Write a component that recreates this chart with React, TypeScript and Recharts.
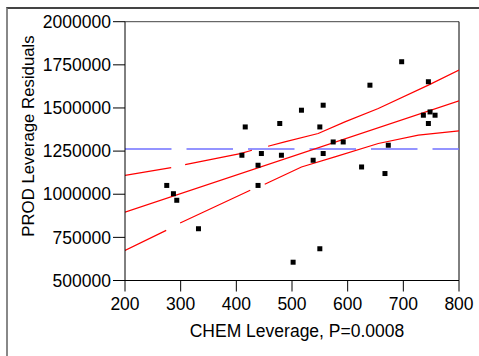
import {
  ComposedChart,
  Scatter,
  Line,
  XAxis,
  YAxis,
  ReferenceLine,
  Label,
} from 'recharts'

// leverage plot points (CHEM leverage, PROD leverage residuals)
const chemLev = [275, 287, 293, 332, 410, 416, 439, 439, 445, 478, 481, 502, 517, 538, 550, 550, 556, 556, 574, 592, 625, 640, 667, 673, 697, 736, 745, 745, 748, 757]
const prodRes = [1051000, 1003000, 965000, 800000, 1226000, 1390000, 1168000, 1051000, 1236000, 1410000, 1226000, 606000, 1487000, 1197000, 1390000, 684000, 1516000, 1236000, 1303000, 1303000, 1158000, 1632000, 1120000, 1284000, 1768000, 1458000, 1652000, 1410000, 1477000, 1458000]

// fit line and confidence curves (null = break in the drawn curve)
const fitX = [200, 800]
const fitY = [896700, 1541200]
const upperX = [200, 283, 295, 308, 407, 428, 440, 457, 487, 547, 595, 655, 745, 800]
const upperY = [1109800, 1154500, null, 1171900, 1235800, 1254900, null, 1278200, 1303200, 1351900, 1419300, 1497100, 1632400, 1719500]
const lowerX = [200, 274, 286, 299, 425, 438, 451, 517, 577, 655, 727, 800]
const lowerY = [674300, 790400, null, 832800, 1022700, null, 1057500, 1158000, 1216100, 1293900, 1342100, 1367000]

const meanY = 1262500
const xTicks = [200, 300, 400, 500, 600, 700, 800]
const yTicks = [500000, 750000, 1000000, 1250000, 1500000, 1750000, 2000000]

const points = chemLev.map((x, i) => ({ x, y: prodRes[i] }))
const toXY = (xs: number[], ys: (number | null)[]) => xs.map((x, i) => ({ x, y: ys[i] }))
const fitData = toXY(fitX, fitY)
const upperData = toXY(upperX, upperY)
const lowerData = toXY(lowerX, lowerY)

const font = 'Arial, "Liberation Sans", sans-serif'

function Square({ cx, cy }: { cx?: number; cy?: number }) {
  if (cx == null || cy == null) return null
  return <rect x={cx - 2.5} y={cy - 2.5} width={5} height={5} fill="#000" />
}

// eslint-disable-next-line @typescript-eslint/no-explicit-any
function YLabel(props: any) {
  const vb = props.viewBox
  const x = vb.x + 28.5
  const y = 136
  return (
    <text x={x} y={y} transform={`rotate(-90, ${x}, ${y})`} textAnchor="middle" dominantBaseline="central"
      fontSize={16.8} fontFamily={font} fill="#000">
      PROD Leverage Residuals
    </text>
  )
}

export default function App() {
  return (
    <div style={{ position: 'absolute', left: 0, top: 0, width: 479, height: 356, background: '#fff' }}>
      <div style={{ position: 'absolute', left: 6, top: 7, right: 0, bottom: 0, borderLeft: '2px solid #888', borderTop: '2px solid #444' }} />
      <div style={{ position: 'absolute', left: 0, top: 0 }}>
        <ComposedChart width={479} height={356} margin={{ top: 21.7, right: 20, bottom: 17.5, left: 0 }}>
          <XAxis
            type="number"
            dataKey="x"
            domain={[200, 800]}
            ticks={xTicks}
            allowDataOverflow
            height={58}
            tickSize={11}
            tickMargin={6}
            stroke="#000"
            tick={{ fill: '#000', fontSize: 17.5, fontFamily: font }}
          >
            <Label value="CHEM Leverage, P=0.0008" position="insideBottom" offset={2} dx={5}
              style={{ fontSize: 17.5, fontFamily: font, fill: '#000' }} />
          </XAxis>
          <YAxis
            type="number"
            dataKey="y"
            domain={[500000, 2000000]}
            ticks={yTicks}
            allowDataOverflow
            width={125}
            tickSize={12}
            tickMargin={2}
            stroke="#000"
            tick={{ fill: '#000', fontSize: 17.5, fontFamily: font }}
          >
            <Label content={<YLabel />} />
          </YAxis>
          <ReferenceLine y={2000000} stroke="#444" />
          <ReferenceLine x={800} stroke="#000" />
          <ReferenceLine y={meanY} stroke="#7272ff" strokeWidth={1.5} strokeDasharray="46.5 15" />
          <Line data={fitData} dataKey="y" stroke="#ff0000" strokeWidth={1.2} dot={false} isAnimationActive={false} />
          <Line data={upperData} dataKey="y" stroke="#ff0000" strokeWidth={1.2} dot={false} isAnimationActive={false} />
          <Line data={lowerData} dataKey="y" stroke="#ff0000" strokeWidth={1.2} dot={false} isAnimationActive={false} />
          <Scatter data={points} dataKey="y" shape={<Square />} isAnimationActive={false} />
        </ComposedChart>
      </div>
    </div>
  )
}
